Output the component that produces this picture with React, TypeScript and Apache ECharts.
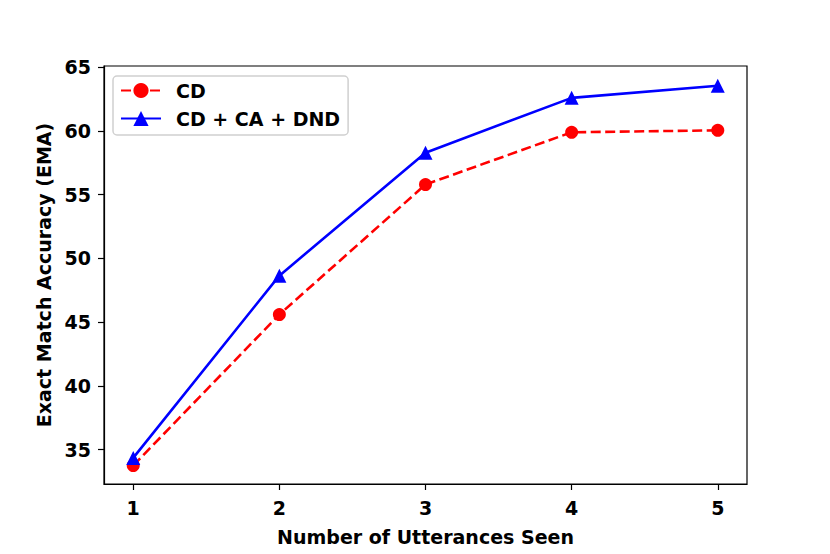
import React, { useEffect, useRef } from "react";
import * as echarts from "echarts";

const xValues = [1, 2, 3, 4, 5];
const xTicks = [1, 2, 3, 4, 5];
const yTicks = [35, 40, 45, 50, 55, 60, 65];
const cdValues = [33.75, 45.6, 55.8, 59.9, 60.05];
const fullValues = [34.35, 48.65, 58.3, 62.6, 63.55];
const seriesNames = ["CD", "CD + CA + DND"];

export default function App() {
  const ref = useRef<HTMLDivElement>(null);
  useEffect(() => {
    if (!ref.current) return;
    const chart = echarts.init(ref.current, null, { renderer: "svg" });
    const font = "DejaVu Sans";
    const fs = 19;
    chart.setOption({
      animation: false,
      backgroundColor: "#ffffff",
      grid: {
        left: 104,
        right: 83,
        top: 66,
        bottom: 70,
        show: true,
        borderColor: "#000",
        borderWidth: 1.2,
        backgroundColor: "transparent",
      },
      legend: {
        left: 113,
        top: 76,
        orient: "vertical",
        itemWidth: 40,
        itemHeight: 19,
        itemGap: 9,
        padding: [5, 8, 7, 7],
        borderColor: "#d0d0d0",
        borderWidth: 1.5,
        borderRadius: 4,
        backgroundColor: "#fff",
        textStyle: { fontFamily: font, fontWeight: "bold", fontSize: fs, color: "#000", padding: [0, 0, 0, 10] },
        data: seriesNames,
      },
      xAxis: {
        type: "value",
        min: 0.8,
        max: 5.2,
        name: "Number of Utterances Seen",
        nameLocation: "middle",
        nameGap: 43,
        nameTextStyle: { fontFamily: font, fontWeight: "bold", fontSize: fs, color: "#000" },
        axisLine: { show: true, onZero: false, lineStyle: { color: "#000", width: 1.2 } },
        axisTick: { show: true, length: 6, lineStyle: { color: "#000", width: 1.2 }, customValues: xTicks },
        axisLabel: { fontFamily: font, fontWeight: "bold", fontSize: fs, color: "#000", margin: 14, customValues: xTicks },
        splitLine: { show: false },
      },
      yAxis: {
        type: "value",
        min: 32.3,
        max: 65.1,
        name: "Exact Match Accuracy (EMA)",
        nameLocation: "middle",
        nameGap: 49,
        nameTextStyle: { fontFamily: font, fontWeight: "bold", fontSize: fs, color: "#000" },
        axisLine: { show: true, lineStyle: { color: "#000", width: 1.2 } },
        axisTick: { show: true, length: 6, lineStyle: { color: "#000", width: 1.2 }, customValues: yTicks },
        axisLabel: { fontFamily: font, fontWeight: "bold", fontSize: fs, color: "#000", margin: 13, customValues: yTicks },
        splitLine: { show: false },
      },
      series: [
        {
          name: seriesNames[0],
          type: "line",
          data: xValues.map((x, i) => [x, cdValues[i]]),
          symbol: "circle",
          symbolSize: 13,
          itemStyle: { color: "#ff0000" },
          lineStyle: { color: "#ff0000", width: 2.6, type: [10, 4.5] },
          z: 2,
        },
        {
          name: seriesNames[1],
          type: "line",
          data: xValues.map((x, i) => [x, fullValues[i]]),
          symbol: "triangle",
          symbolSize: 14,
          itemStyle: { color: "#0000ff" },
          lineStyle: { color: "#0000ff", width: 2.6 },
          z: 3,
        },
      ],
    });
    return () => chart.dispose();
  }, []);
  return (
    <div
      ref={ref}
      style={{ position: "absolute", left: 0, top: 0, width: 830, height: 554 }}
    />
  );
}
